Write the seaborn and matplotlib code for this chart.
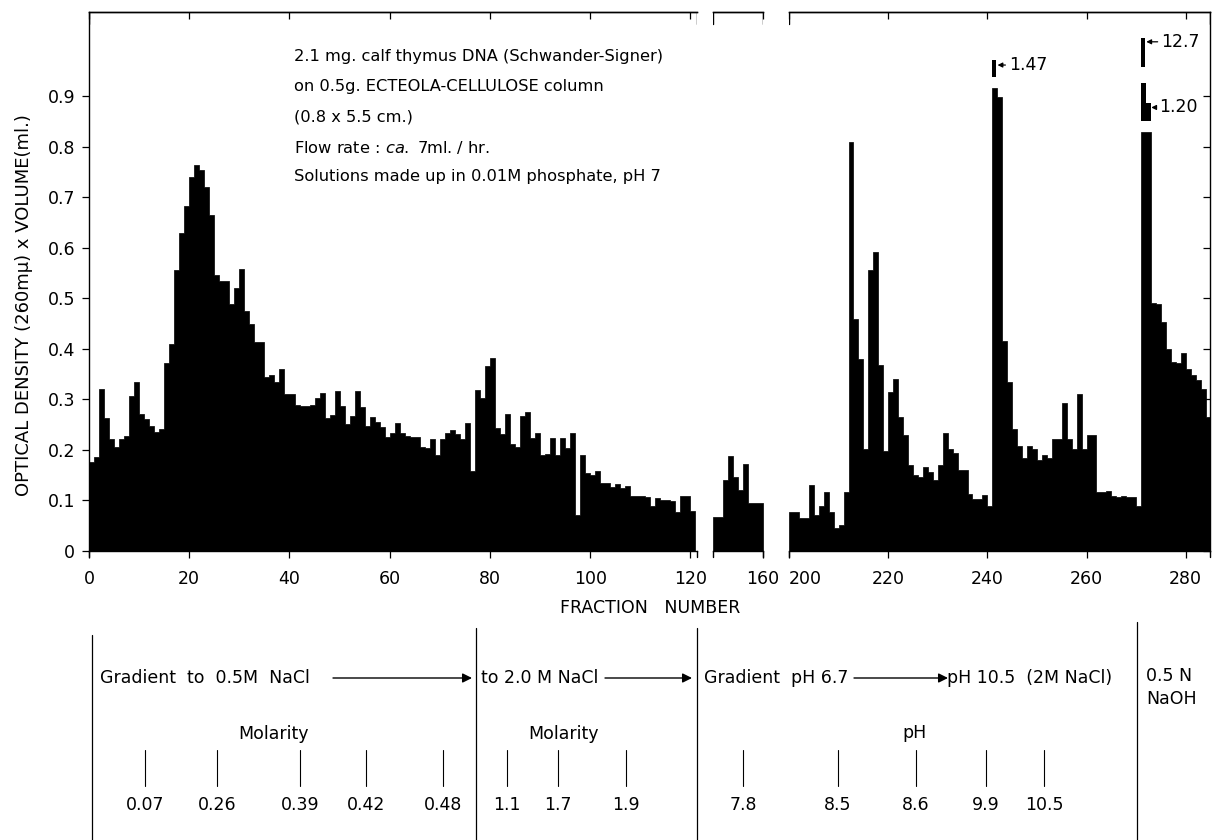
import numpy as np
import pandas as pd
import seaborn as sns
import matplotlib
matplotlib.use("Agg")
import matplotlib.pyplot as plt

sns.set_style("ticks")
plt.rcParams['font.family'] = ['DejaVu Sans']
plt.rcParams.update({'axes.edgecolor': 'black', 'xtick.color': 'black', 'ytick.color': 'black',
                     'text.color': 'black', 'axes.labelcolor': 'black', 'axes.linewidth': 1.0})

# fractions 1-121 (0.01M phosphate -> 0.5M NaCl -> 2M NaCl)
frac_a = np.arange(1, 122)
od_a = [0.176, 0.186, 0.321, 0.264, 0.222, 0.205, 0.222, 0.228, 0.307, 0.334,
        0.271, 0.261, 0.248, 0.235, 0.242, 0.373, 0.409, 0.557, 0.630, 0.682,
        0.740, 0.765, 0.755, 0.720, 0.665, 0.547, 0.534, 0.534, 0.488, 0.520,
        0.559, 0.475, 0.449, 0.413, 0.413, 0.344, 0.348, 0.334, 0.361, 0.310,
        0.310, 0.290, 0.288, 0.288, 0.290, 0.302, 0.312, 0.263, 0.269, 0.316,
        0.287, 0.251, 0.267, 0.316, 0.286, 0.248, 0.265, 0.256, 0.246, 0.226,
        0.233, 0.254, 0.234, 0.228, 0.226, 0.226, 0.205, 0.203, 0.221, 0.190,
        0.221, 0.234, 0.240, 0.231, 0.221, 0.253, 0.159, 0.319, 0.302, 0.367,
        0.382, 0.243, 0.232, 0.271, 0.212, 0.205, 0.268, 0.276, 0.223, 0.233,
        0.190, 0.193, 0.223, 0.190, 0.223, 0.203, 0.234, 0.071, 0.190, 0.154,
        0.150, 0.159, 0.135, 0.134, 0.126, 0.132, 0.125, 0.129, 0.109, 0.108,
        0.108, 0.106, 0.089, 0.105, 0.101, 0.101, 0.099, 0.078, 0.108, 0.109,
        0.080]

# fractions 151-160
frac_b = np.arange(151, 161)
od_b = [0.068, 0.068, 0.141, 0.188, 0.147, 0.121, 0.172, 0.096, 0.096, 0.096]

# fractions 201-285 (pH gradient, then NaOH)
frac_c = np.arange(201, 286)
od_c = [0.078, 0.078, 0.065, 0.065, 0.130, 0.072, 0.089, 0.116, 0.078, 0.046,
        0.051, 0.117, 0.810, 0.460, 0.381, 0.201, 0.556, 0.592, 0.368, 0.198,
        0.315, 0.341, 0.266, 0.229, 0.171, 0.151, 0.147, 0.167, 0.157, 0.140,
        0.171, 0.233, 0.201, 0.194, 0.160, 0.160, 0.113, 0.102, 0.102, 0.110,
        0.090, 1.47, 0.899, 0.416, 0.334, 0.242, 0.208, 0.184, 0.208, 0.201,
        0.181, 0.191, 0.184, 0.222, 0.222, 0.293, 0.222, 0.201, 0.310, 0.201,
        0.229, 0.230, 0.116, 0.116, 0.119, 0.109, 0.106, 0.109, 0.106, 0.106,
        0.089, 12.7, 1.20, 0.491, 0.488, 0.453, 0.399, 0.375, 0.372, 0.392,
        0.361, 0.348, 0.338, 0.321, 0.266]

# off-scale bars: drawn cut, with a broken piece and the true value written next to it
draw_cap = {242: 0.917, 272: 0.829, 273: 0.829}
pieces = [(242, 0.938, 0.972, 0.8), (272, 0.852, 0.927, 1.0),
          (273, 0.852, 0.887, 1.0), (272, 0.958, 1.016, 0.8)]
off_labels = [(242, 0.962, 244.3), (272, 1.008, 275.0), (273, 0.878, 274.7)]

y_ticks = [0, 0.1, 0.2, 0.3, 0.4, 0.5, 0.6, 0.7, 0.8, 0.9]
y_ticklabels = ['0', '0.1', '0.2', '0.3', '0.4', '0.5', '0.6', '0.7', '0.8', '0.9']

# lower panel: solution schedule
molarity_vals = ['0.07', '0.26', '0.39', '0.42', '0.48', '1.1', '1.7', '1.9']
ph_vals = ['7.8', '8.5', '8.6', '9.9', '10.5']
sched_x = [145, 217, 300, 366, 443, 507, 558, 626, 743, 838, 916, 986, 1044]

W, H = 1213, 840
fig = plt.figure(figsize=(W / 100, H / 100), dpi=100)


def px_axes(x0, x1, y0=12, y1=551):
    return fig.add_axes([x0 / W, 1 - y1 / H, (x1 - x0) / W, (y1 - y0) / H])


def ptext(x, y, s, **kw):
    kw.setdefault('va', 'center')
    kw.setdefault('fontsize', 12.5)
    return fig.text(x / W, 1 - y / H, s, **kw)


ann = fig.add_axes([0, 0, 1, 1])
ann.set_xlim(0, W)
ann.set_ylim(H, 0)
ann.axis('off')

ax_a = px_axes(89, 697)
ax_b = px_axes(712.5, 762.5)
ax_c = px_axes(789, 1210)

segments = [
    (ax_a, frac_a, od_a, (0, 121.3), [0, 20, 40, 60, 80, 100, 120]),
    (ax_b, frac_b, od_b, (150, 160), [160]),
    (ax_c, frac_c, od_c, (200, 284.9), [200, 220, 240, 260, 280]),
]

for ax, frac, od, xlim, xt in segments:
    h = [min(v, draw_cap.get(f, v)) for f, v in zip(frac, od)]
    df = pd.DataFrame({'fraction': np.asarray(frac) - 0.5, 'od': h})
    sns.histplot(df, x='fraction', weights='od', binwidth=1,
                 binrange=(int(frac[0]) - 1, int(frac[-1])), element='step', fill=True,
                 color='black', alpha=1, linewidth=0.5, ax=ax)
    ax.set_xlim(*xlim)
    ax.set_ylim(0, 1.067)
    ax.set_xlabel('')
    ax.set_ylabel('')
    ax.set_xticks(xt)
    ax.set_xticklabels([str(t) for t in xt])
    ax.tick_params(axis='x', direction='out', length=5, width=0.9, pad=9, labelsize=12.5)
    top = ax.secondary_xaxis('top')
    top.set_xticks(xt)
    top.set_xticklabels([])
    top.tick_params(direction='in', length=5, width=0.9)
    ax.set_yticks(y_ticks)
    # small marks at the ends of each broken segment
    for x in xlim:
        ax.axvline(x, 0.978, 1, color='black', lw=1)
        ax.axvline(x, -0.012, 0, color='black', lw=1, clip_on=False)

ax_a.set_yticklabels(y_ticklabels)
ax_a.tick_params(axis='y', direction='out', length=5, width=0.9, pad=5, labelsize=12.5)
ax_a.spines['right'].set_visible(False)

ax_b.tick_params(axis='y', left=False, labelleft=False)
ax_b.spines['left'].set_visible(False)
ax_b.spines['right'].set_visible(False)

ax_c.tick_params(axis='y', left=False, labelleft=False, right=True, direction='in', length=5, width=0.9)
ax_c.spines['left'].set_visible(False)
ax_c.get_xticklabels()[0].set_ha('left')

for f, lo, hi, w in pieces:
    ax_c.bar(f - 1, hi - lo, bottom=lo, width=w, align='edge', color='black', linewidth=0)

for f, y, tx in off_labels:
    v = od_c[list(frac_c).index(f)]
    ax_c.annotate(f'{v:.2f}' if v < 10 else f'{v:.1f}', xy=(f + 0.05, y), xytext=(tx, y),
                  va='center', ha='left', fontsize=12.5,
                  arrowprops=dict(arrowstyle='-|>', color='black', lw=0.9, mutation_scale=7,
                                  shrinkA=0, shrinkB=0, relpos=(0, 0.5)))

# axis titles
ptext(24, 305, 'OPTICAL DENSITY (260mμ) x VOLUME(ml.)', rotation=90, ha='center', fontsize=13)
ptext(650, 608, 'FRACTION   NUMBER', ha='center', fontsize=12.5)

# experiment description
desc = ['2.1 mg. calf thymus DNA (Schwander-Signer)',
        'on 0.5g. ECTEOLA-CELLULOSE column',
        '(0.8 x 5.5 cm.)',
        'Flow rate : $\\it{ca.}$ 7ml. / hr.',
        'Solutions made up in 0.01M phosphate, pH 7']
for k, line in enumerate(desc):
    ptext(294, 57 + 30 * k, line, ha='left', fontsize=11.7)

# lower panel
for x, y0 in [(92, 635), (476, 628), (697, 628), (1137, 622)]:
    ann.plot([x, x], [y0, H], color='black', lw=0.9)

ptext(100, 678, 'Gradient  to  0.5M  NaCl', ha='left')
ptext(481, 678, 'to 2.0 M NaCl', ha='left')
ptext(704, 678, 'Gradient  pH 6.7', ha='left')
ptext(947, 678, 'pH 10.5  (2M NaCl)', ha='left')
ptext(1146, 676, '0.5 N', ha='left')
ptext(1146, 699, 'NaOH', ha='left')
for x0, x1 in [(333, 472), (605, 692), (854, 948)]:
    ann.annotate('', xy=(x1, 678), xytext=(x0, 678),
                 arrowprops=dict(arrowstyle='-|>', color='black', lw=1, mutation_scale=14,
                                 shrinkA=0, shrinkB=0))

ptext(273, 734, 'Molarity', ha='center')
ptext(564, 734, 'Molarity', ha='center')
ptext(915, 733, 'pH', ha='center')
for x, s in zip(sched_x, molarity_vals + ph_vals):
    ann.plot([x, x], [750, 786], color='black', lw=0.8)
    ptext(x, 805, s, ha='center')

fig.savefig('out.png', dpi=100)
